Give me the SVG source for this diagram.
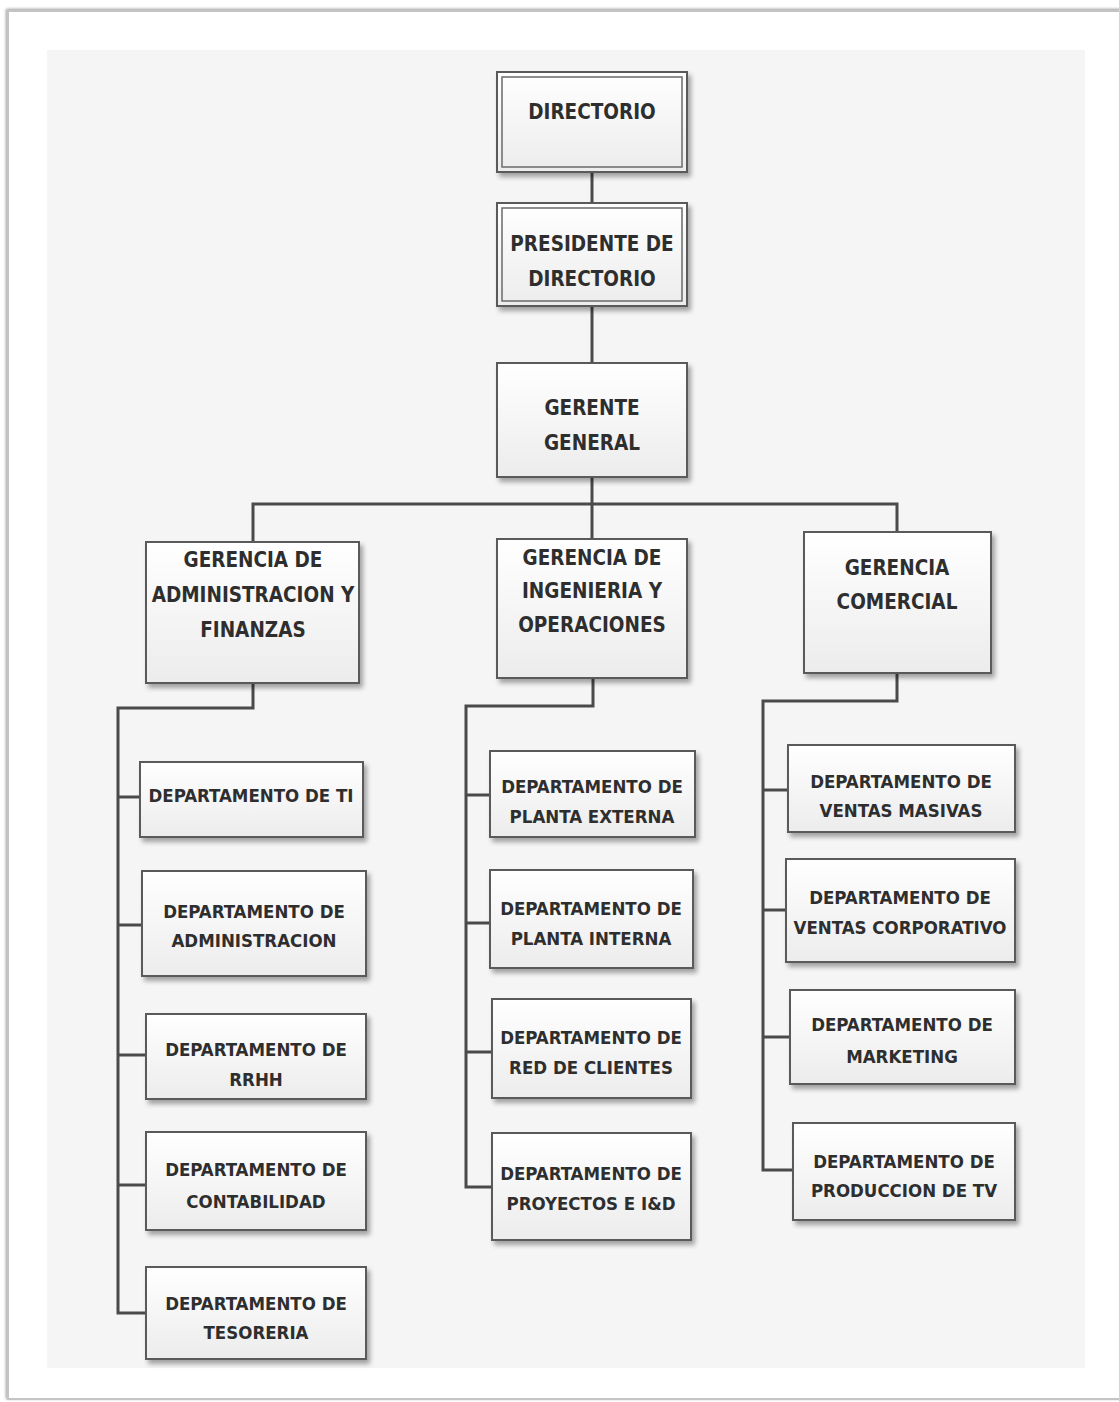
<svg xmlns="http://www.w3.org/2000/svg" width="1119" height="1402" viewBox="0 0 1119 1402">
  <defs>
    <linearGradient id="boxFill" x1="0" y1="0" x2="0" y2="1">
      <stop offset="0" stop-color="#ffffff"/>
      <stop offset="1" stop-color="#ececec"/>
    </linearGradient>
    <filter id="shadow" x="-10%" y="-10%" width="130%" height="130%">
      <feGaussianBlur in="SourceAlpha" stdDeviation="2.5"/>
      <feOffset dx="3" dy="4" result="b"/>
      <feComponentTransfer><feFuncA type="linear" slope="0.35"/></feComponentTransfer>
      <feMerge><feMergeNode/><feMergeNode in="SourceGraphic"/></feMerge>
    </filter>
    <filter id="frameShadow" x="-2%" y="-2%" width="104%" height="104%">
      <feGaussianBlur in="SourceAlpha" stdDeviation="1.5"/>
      <feOffset dx="-1" dy="-1"/>
      <feComponentTransfer><feFuncA type="linear" slope="0.4"/></feComponentTransfer>
      <feMerge><feMergeNode/><feMergeNode in="SourceGraphic"/></feMerge>
    </filter>
  </defs>
  <style>
    .box { fill: url(#boxFill); stroke: #5a5a5a; stroke-width: 2; filter: url(#shadow); }
    .inner { fill: none; stroke: #6a6a6a; stroke-width: 1.5; }
    .lbl { font-family: "DejaVu Sans Condensed", "DejaVu Sans", "Liberation Sans", sans-serif; font-stretch: condensed; font-weight: bold; font-size: 20.5px; fill: #2e2e2e; text-anchor: middle; }
    .small { font-size: 18.5px; }
    .conn { fill: none; stroke: #4a4a4a; stroke-width: 3; stroke-linejoin: miter; }
  </style>

  <!-- page frame and canvas -->
  <rect x="0" y="0" width="1119" height="1402" fill="#ffffff"/>
  <rect x="8" y="11" width="1130" height="1388" fill="#ffffff" stroke="#c4c4c4" stroke-width="2" filter="url(#frameShadow)"/>
  <rect x="47" y="50" width="1038" height="1318" fill="#f5f5f5"/>

  <!-- connectors -->
  <g id="connectors" class="conn">
    <path d="M592 172 V203"/>
    <path d="M592 306 V363"/>
    <path d="M592 477 V539"/>
    <path d="M253 542 V504 H897 V532"/>
    <path d="M253 683 V708 H118 V1313 H146"/>
    <path d="M118 797 H140"/>
    <path d="M118 925 H142"/>
    <path d="M118 1055 H146"/>
    <path d="M118 1185 H146"/>
    <path d="M593 678 V706 H466 V1187 H492"/>
    <path d="M466 795 H490"/>
    <path d="M466 923 H490"/>
    <path d="M466 1052 H492"/>
    <path d="M897 673 V701 H763 V1170 H793"/>
    <path d="M763 790 H788"/>
    <path d="M763 910 H786"/>
    <path d="M763 1037 H790"/>
  </g>

  <!-- top level -->
  <g id="directorio">
    <rect class="box" x="497" y="72" width="190" height="100"/>
    <rect class="inner" x="502" y="77" width="180" height="90"/>
    <text class="lbl" x="592" y="119">DIRECTORIO</text>
  </g>
  <g id="presidente">
    <rect class="box" x="497" y="203" width="190" height="103"/>
    <rect class="inner" x="502" y="208" width="180" height="93"/>
    <text class="lbl" x="592" y="251">PRESIDENTE DE</text>
    <text class="lbl" x="592" y="286">DIRECTORIO</text>
  </g>
  <g id="gerente-general">
    <rect class="box" x="497" y="363" width="190" height="114"/>
    <text class="lbl" x="592" y="415">GERENTE</text>
    <text class="lbl" x="592" y="450">GENERAL</text>
  </g>

  <!-- gerencias -->
  <g id="gerencia-admin">
    <rect class="box" x="146" y="542" width="213" height="141"/>
    <text class="lbl" x="253" y="567">GERENCIA DE</text>
    <text class="lbl" x="253" y="602">ADMINISTRACION Y</text>
    <text class="lbl" x="253" y="637">FINANZAS</text>
  </g>
  <g id="gerencia-ingenieria">
    <rect class="box" x="497" y="539" width="190" height="139"/>
    <text class="lbl" x="592" y="565">GERENCIA DE</text>
    <text class="lbl" x="592" y="598">INGENIERIA Y</text>
    <text class="lbl" x="592" y="632">OPERACIONES</text>
  </g>
  <g id="gerencia-comercial">
    <rect class="box" x="804" y="532" width="187" height="141"/>
    <text class="lbl" x="897" y="575">GERENCIA</text>
    <text class="lbl" x="897" y="609">COMERCIAL</text>
  </g>

  <!-- administracion y finanzas departments -->
  <g id="dep-ti">
    <rect class="box" x="140" y="762" width="223" height="75"/>
    <text class="lbl small" x="251" y="802">DEPARTAMENTO DE TI</text>
  </g>
  <g id="dep-administracion">
    <rect class="box" x="142" y="871" width="224" height="105"/>
    <text class="lbl small" x="254" y="918">DEPARTAMENTO DE</text>
    <text class="lbl small" x="254" y="947">ADMINISTRACION</text>
  </g>
  <g id="dep-rrhh">
    <rect class="box" x="146" y="1014" width="220" height="85"/>
    <text class="lbl small" x="256" y="1056">DEPARTAMENTO DE</text>
    <text class="lbl small" x="256" y="1086">RRHH</text>
  </g>
  <g id="dep-contabilidad">
    <rect class="box" x="146" y="1132" width="220" height="98"/>
    <text class="lbl small" x="256" y="1176">DEPARTAMENTO DE</text>
    <text class="lbl small" x="256" y="1208">CONTABILIDAD</text>
  </g>
  <g id="dep-tesoreria">
    <rect class="box" x="146" y="1267" width="220" height="92"/>
    <text class="lbl small" x="256" y="1310">DEPARTAMENTO DE</text>
    <text class="lbl small" x="256" y="1339">TESORERIA</text>
  </g>

  <!-- ingenieria y operaciones departments -->
  <g id="dep-planta-externa">
    <rect class="box" x="490" y="751" width="205" height="86"/>
    <text class="lbl small" x="592" y="793">DEPARTAMENTO DE</text>
    <text class="lbl small" x="592" y="823">PLANTA EXTERNA</text>
  </g>
  <g id="dep-planta-interna">
    <rect class="box" x="490" y="870" width="203" height="98"/>
    <text class="lbl small" x="591" y="915">DEPARTAMENTO DE</text>
    <text class="lbl small" x="591" y="945">PLANTA INTERNA</text>
  </g>
  <g id="dep-red-clientes">
    <rect class="box" x="492" y="999" width="199" height="99"/>
    <text class="lbl small" x="591" y="1044">DEPARTAMENTO DE</text>
    <text class="lbl small" x="591" y="1074">RED DE CLIENTES</text>
  </g>
  <g id="dep-proyectos">
    <rect class="box" x="492" y="1133" width="199" height="107"/>
    <text class="lbl small" x="591" y="1180">DEPARTAMENTO DE</text>
    <text class="lbl small" x="591" y="1210">PROYECTOS E I&amp;D</text>
  </g>

  <!-- comercial departments -->
  <g id="dep-ventas-masivas">
    <rect class="box" x="788" y="745" width="227" height="87"/>
    <text class="lbl small" x="901" y="788">DEPARTAMENTO DE</text>
    <text class="lbl small" x="901" y="817">VENTAS MASIVAS</text>
  </g>
  <g id="dep-ventas-corporativo">
    <rect class="box" x="786" y="859" width="229" height="103"/>
    <text class="lbl small" x="900" y="904">DEPARTAMENTO DE</text>
    <text class="lbl small" x="900" y="934">VENTAS CORPORATIVO</text>
  </g>
  <g id="dep-marketing">
    <rect class="box" x="790" y="990" width="225" height="94"/>
    <text class="lbl small" x="902" y="1031">DEPARTAMENTO DE</text>
    <text class="lbl small" x="902" y="1063">MARKETING</text>
  </g>
  <g id="dep-produccion-tv">
    <rect class="box" x="793" y="1123" width="222" height="97"/>
    <text class="lbl small" x="904" y="1168">DEPARTAMENTO DE</text>
    <text class="lbl small" x="904" y="1197">PRODUCCION DE TV</text>
  </g>
</svg>
